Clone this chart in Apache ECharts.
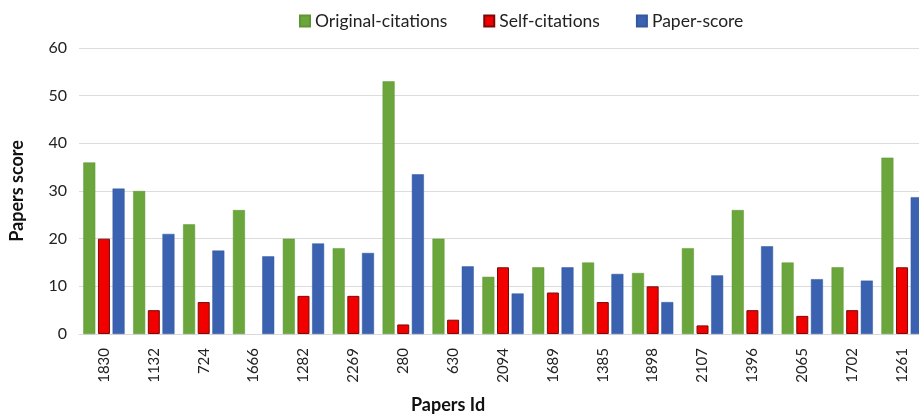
<!DOCTYPE html>
<html>
<head>
<meta charset="utf-8">
<script src="https://cdn.jsdelivr.net/npm/echarts@6/dist/echarts.min.js"></script>
<style>
  html, body { margin: 0; padding: 0; background: #fff; overflow: hidden; }
  #chart { width: 927px; height: 415px; }
</style>
</head>
<body>
<div id="chart"></div>
<script>
const paperIds = ['1830', '1132', '724', '1666', '1282', '2269', '280', '630', '2094',
  '1689', '1385', '1898', '2107', '1396', '2065', '1702', '1261']
const originalCitations = [36, 30, 23, 26, 20, 18, 53, 20, 12, 14, 15, 12.8, 18, 26, 15, 14, 37]
const selfCitations = [20, 5, 6.7, 0, 8, 8, 2, 3, 14, 8.7, 6.7, 10, 1.8, 5, 3.8, 5, 14]
const paperScore = [30.5, 21, 17.5, 16.3, 19, 17, 33.5, 14.2, 8.5, 14, 12.6, 6.7, 12.3, 18.4, 11.5, 11.2, 28.7]
const yTicks = { min: 0, max: 60, interval: 10 }

const font = 'Lato'

const chart = echarts.init(document.getElementById('chart'))

// zero-height bars get no outline
const noEdgeAtZero = arr => arr.map(v => v === 0 ? { value: 0, itemStyle: { borderWidth: 0 } } : v)

chart.setOption({
  animation: false,
  textStyle: { fontFamily: font },
  legend: {
    top: 7,
    left: 294,
    itemWidth: 10,
    itemHeight: 11,
    itemGap: 36,
    icon: 'rect',
    textStyle: { fontSize: 17.5, color: '#222', fontFamily: font },
    data: ['Original-citations', 'Self-citations', 'Paper-score']
  },
  title: {
    text: 'Papers Id',
    left: 406,
    top: 391,
    textStyle: { fontSize: 18, fontWeight: 'bold', color: '#111', fontFamily: font }
  },
  grid: {
    left: 77,
    right: 0,
    top: 48,
    bottom: 81,
    containLabel: false
  },
  xAxis: {
    type: 'category',
    data: paperIds,
    axisLine: { lineStyle: { color: '#d9d9d9' } },
    axisTick: { show: false },
    axisLabel: {
      rotate: 90,
      margin: 14,
      fontSize: 15,
      color: '#222',
      fontFamily: font
    }
  },
  yAxis: {
    type: 'value',
    min: yTicks.min,
    max: yTicks.max,
    interval: yTicks.interval,
    name: 'Papers score',
    nameLocation: 'middle',
    nameGap: 53,
    nameTextStyle: { fontSize: 18, fontWeight: 'bold', color: '#111', fontFamily: font },
    axisLine: { show: false },
    axisTick: { show: false },
    axisLabel: { fontSize: 16, color: '#222', margin: 12, fontFamily: font },
    splitLine: { lineStyle: { color: '#dcdcdc' } }
  },
  series: [
    {
      name: 'Original-citations',
      type: 'bar',
      data: noEdgeAtZero(originalCitations),
      barWidth: 12,
      barGap: '22%',
      itemStyle: { color: '#6aa63c', borderColor: '#5e9634', borderWidth: 0.5 }
    },
    {
      name: 'Self-citations',
      type: 'bar',
      data: noEdgeAtZero(selfCitations),
      barWidth: 12,
      itemStyle: { color: '#f20000', borderColor: '#7a0a0a', borderWidth: 1 }
    },
    {
      name: 'Paper-score',
      type: 'bar',
      data: noEdgeAtZero(paperScore),
      barWidth: 12,
      itemStyle: { color: '#3a62b0', borderColor: '#33589f', borderWidth: 0.5 }
    }
  ]
})
</script>
</body>
</html>
